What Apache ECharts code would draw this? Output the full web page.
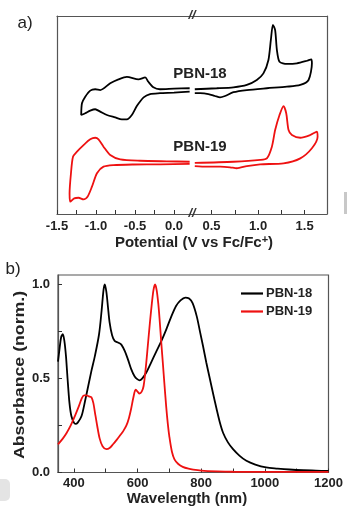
<!DOCTYPE html>
<html>
<head>
<meta charset="utf-8">
<script src="https://cdn.jsdelivr.net/npm/echarts@6/dist/echarts.min.js"></script>
<style>
html,body{margin:0;padding:0;background:#fff;}
#chart{width:347px;height:511px;}
</style>
</head>
<body>
<div id="chart"></div>
<script type="text/javascript">
// a) cyclic voltammetry, [potential V, current a.u.], split at the axis break
var pbn18CvLeft = [[0.20,63.5],[0.0,63.3],[-0.18,63.0],[-0.265,64.0],[-0.33,66.8],[-0.37,69.0],[-0.456,68.0],[-0.605,69.3],[-0.712,68.0],[-0.818,66.0],[-0.946,62.6],[-1.01,63.0],[-1.074,62.3],[-1.138,59.2],[-1.18,55.9],[-1.19,50.0],[-1.138,50.9],[-1.074,52.2],[-1.01,52.9],[-0.946,51.7],[-0.86,50.0],[-0.754,48.8],[-0.669,47.8],[-0.605,47.8],[-0.541,50.0],[-0.477,54.5],[-0.39,58.9],[-0.307,60.6],[-0.18,61.0],[0.0,61.3],[0.20,61.8]];
var pbn18CvRight = [[0.32,63.0],[0.556,63.5],[0.735,64.0],[0.879,65.2],[0.986,67.7],[1.057,71.0],[1.111,77.8],[1.137,87.9],[1.159,95.5],[1.183,92.9],[1.202,82.8],[1.23,76.9],[1.309,75.8],[1.417,76.1],[1.525,77.4],[1.571,78.1],[1.578,76.1],[1.542,67.7],[1.453,65.2],[1.309,64.3],[1.094,63.5],[0.879,62.6],[0.735,61.5],[0.645,59.6],[0.591,58.9],[0.538,59.6],[0.466,60.6],[0.376,61.0],[0.32,61.0]];
var pbn19CvLeft = [[0.20,26.4],[-0.093,26.6],[-0.435,26.9],[-0.69,27.6],[-0.818,29.8],[-0.904,34.0],[-0.968,37.7],[-1.01,38.5],[-1.074,37.7],[-1.16,34.8],[-1.244,31.5],[-1.295,28.9],[-1.321,20.6],[-1.339,10.4],[-1.33,6.2],[-1.279,7.9],[-1.224,8.2],[-1.16,7.4],[-1.109,8.7],[-1.052,13.8],[-0.988,20.6],[-0.904,23.9],[-0.776,24.7],[-0.52,25.0],[-0.179,25.1],[0.20,25.3]];
var pbn19CvRight = [[0.32,25.8],[0.735,26.4],[1.022,27.3],[1.094,28.1],[1.148,34.0],[1.183,42.4],[1.23,50.0],[1.273,54.5],[1.302,50.9],[1.327,42.4],[1.363,39.9],[1.453,38.5],[1.56,39.9],[1.632,41.6],[1.639,39.0],[1.578,33.2],[1.453,28.1],[1.273,25.6],[1.022,25.1],[0.879,24.2],[0.771,23.1],[0.699,23.6],[0.591,23.9],[0.448,23.9],[0.32,24.2]];

var potTicksLeft = [-1.5,-1.25,-1.0,-0.75,-0.5,-0.25,0.0];
var potLabelsLeft = [-1.5,-1.0,-0.5,0.0];
var potTicksRight = [0.5,0.75,1.0,1.25,1.5];
var potLabelsRight = [0.5,1.0,1.5];

// b) absorption spectra
var wl18 = [350,355,360,365,370,375,380,386,392,400,405,412,424,435,445,455,466,479,487,493,497,502,507,512,520,528,540,549,560,570,580,591,600,606,615,627,640,658,675,690,705,721,735,750,762,773,786,796,806,816,827,838,848,858,869,884,900,920,942,970,1004,1040,1077,1120,1160,1200];
var abs18 = [0.59,0.66,0.72,0.735,0.70,0.62,0.50,0.37,0.30,0.265,0.258,0.265,0.30,0.38,0.46,0.54,0.62,0.735,0.86,0.97,1.0,0.96,0.88,0.80,0.73,0.70,0.69,0.68,0.645,0.60,0.55,0.51,0.495,0.49,0.50,0.53,0.575,0.64,0.70,0.76,0.825,0.885,0.915,0.93,0.925,0.90,0.83,0.75,0.67,0.585,0.50,0.415,0.34,0.27,0.21,0.16,0.124,0.09,0.062,0.042,0.027,0.021,0.016,0.012,0.01,0.008];
var wl19 = [350,365,377,390,403,415,425,432,440,447,455,461,466,473,481,490,502,512,523,535,544,555,565,573,580,587,594,600,606,613,619,626,632,639,645,650,655,660,665,669,675,680,684,690,695,700,708,716,728,742,760,775,800,850,900,1000,1100,1200];
var abs19 = [0.15,0.18,0.21,0.25,0.30,0.35,0.395,0.41,0.41,0.405,0.40,0.37,0.32,0.25,0.18,0.14,0.124,0.13,0.15,0.175,0.195,0.22,0.25,0.29,0.34,0.40,0.44,0.43,0.42,0.43,0.46,0.56,0.67,0.80,0.90,0.97,1.0,0.97,0.90,0.82,0.68,0.57,0.48,0.35,0.26,0.19,0.11,0.07,0.045,0.03,0.02,0.015,0.01,0.006,0.004,0.003,0.003,0.003];
var wlTicks = [400,500,600,700,800,900,1000,1100,1200];
var wlLabels = [400,600,800,1000,1200];
var absTicks = [0,0.25,0.5,0.75,1.0];
var absLabels = [0,0.5,1.0];

var FONT = "'Liberation Sans', Arial, sans-serif";
var frame = {show:true, onZero:false, lineStyle:{color:'#555', width:1.2}};
var lab = {color:'#222', fontSize:13, fontWeight:'bold', fontFamily:FONT, margin:6};

function zip(a, b) {
    var out = [];
    for (var i = 0; i < a.length; i++) out.push([a[i], b[i]]);
    return out;
}
function fmt(v) { return (+v).toFixed(1); }

function lineOnly(grid, pos, min, max) {
    return {type:'value', gridIndex:grid, position:pos, min:min, max:max,
        axisLine:frame, axisTick:{show:false}, axisLabel:{show:false}, splitLine:{show:false}};
}

var chart = echarts.init(document.getElementById('chart'), null, {renderer:'canvas'});
var option = {
    animation:false,
    textStyle:{fontFamily:FONT},
    grid:[
        {left:57, top:16, width:135, height:198},
        {left:192, top:16, width:135, height:198},
        {left:58, top:275, width:270.5, height:197.5, show:true, borderColor:'#555', borderWidth:1.2}
    ],
    legend:{
        data:['PBN-18','PBN-19'], orient:'vertical', left:236, top:282,
        icon:'rect', itemWidth:22, itemHeight:2.2, itemGap:5,
        textStyle:{color:'#222', fontSize:13, fontWeight:'bold', fontFamily:FONT, padding:[0,0,0,-2]}
    },
    xAxis:[
        {type:'value', gridIndex:0, position:'bottom', min:-1.5, max:0.23,
            axisLine:frame,
            axisTick:{show:true, inside:true, length:4, customValues:potTicksLeft, lineStyle:{color:'#333'}},
            axisLabel:Object.assign({customValues:potLabelsLeft, formatter:fmt}, lab),
            splitLine:{show:false}},
        lineOnly(0, 'top', -1.5, 0.23),
        {type:'value', gridIndex:1, position:'bottom', min:0.29, max:1.74,
            axisLine:frame,
            axisTick:{show:true, inside:true, length:4, customValues:potTicksRight, lineStyle:{color:'#333'}},
            axisLabel:Object.assign({customValues:potLabelsRight, formatter:fmt}, lab),
            splitLine:{show:false}},
        lineOnly(1, 'top', 0.29, 1.74),
        {type:'value', gridIndex:2, position:'bottom', min:350, max:1200,
            axisLine:frame,
            axisTick:{show:true, inside:true, length:4, customValues:wlTicks, lineStyle:{color:'#333'}},
            axisLabel:Object.assign({customValues:wlLabels, formatter:function (v) { return String(v); }}, lab, {margin:4}),
            splitLine:{show:false}}
    ],
    yAxis:[
        lineOnly(0, 'left', 0, 100),
        lineOnly(1, 'right', 0, 100),
        {type:'value', gridIndex:2, position:'left', min:0, max:1.05,
            axisLine:frame,
            axisTick:{show:true, inside:true, length:4, customValues:absTicks, lineStyle:{color:'#333'}},
            axisLabel:Object.assign({customValues:absLabels, formatter:fmt}, lab, {margin:8}),
            splitLine:{show:false}}
    ],
    series:[
        {name:'PBN-18 CV', type:'line', xAxisIndex:0, yAxisIndex:0, data:pbn18CvLeft, smooth:0.25, showSymbol:false, lineStyle:{color:'#000', width:1.8}, itemStyle:{color:'#000'}},
        {name:'PBN-18 CV', type:'line', xAxisIndex:2, yAxisIndex:1, data:pbn18CvRight, smooth:0.25, showSymbol:false, lineStyle:{color:'#000', width:1.8}, itemStyle:{color:'#000'}},
        {name:'PBN-19 CV', type:'line', xAxisIndex:0, yAxisIndex:0, data:pbn19CvLeft, smooth:0.25, showSymbol:false, lineStyle:{color:'#ee1111', width:1.8}, itemStyle:{color:'#ee1111'}},
        {name:'PBN-19 CV', type:'line', xAxisIndex:2, yAxisIndex:1, data:pbn19CvRight, smooth:0.25, showSymbol:false, lineStyle:{color:'#ee1111', width:1.8}, itemStyle:{color:'#ee1111'}},
        {name:'PBN-18', type:'line', xAxisIndex:4, yAxisIndex:2, data:zip(wl18, abs18), smooth:0.3, showSymbol:false, lineStyle:{color:'#000', width:1.8}, itemStyle:{color:'#000'}},
        {name:'PBN-19', type:'line', xAxisIndex:4, yAxisIndex:2, data:zip(wl19, abs19), smooth:0.3, showSymbol:false, lineStyle:{color:'#ee1111', width:1.8}, itemStyle:{color:'#ee1111'}}
    ],
    graphic:[
        {type:'text', x:25, y:23, style:{text:'a)', font:'17px ' + FONT, fill:'#222', align:'center', verticalAlign:'middle'}},
        {type:'text', x:13, y:269, style:{text:'b)', font:'17px ' + FONT, fill:'#222', align:'center', verticalAlign:'middle'}},
        {type:'text', x:200, y:74, style:{text:'PBN-18', font:'bold 15px ' + FONT, fill:'#222', align:'center', verticalAlign:'middle'}},
        {type:'text', x:200, y:147, style:{text:'PBN-19', font:'bold 15px ' + FONT, fill:'#222', align:'center', verticalAlign:'middle'}},
        {type:'text', x:192, y:15, z:10, style:{text:'//', font:'italic bold 13px ' + FONT, fill:'#333', align:'center', verticalAlign:'middle'}},
        {type:'text', x:192, y:213, z:10, style:{text:'//', font:'italic bold 13px ' + FONT, fill:'#333', align:'center', verticalAlign:'middle'}},
        {type:'text', x:194, y:243, style:{
            text:'Potential (V vs Fc/Fc{s|+})', font:'bold 15px ' + FONT, fill:'#222', align:'center', verticalAlign:'middle',
            rich:{s:{fontSize:11, fontWeight:'bold', fontFamily:FONT, fill:'#222', verticalAlign:'top', padding:[0,0,7,0]}}
        }},
        {type:'text', x:187, y:499, style:{text:'Wavelength (nm)', font:'bold 15px ' + FONT, fill:'#222', align:'center', verticalAlign:'middle'}},
        {type:'text', x:20, y:375, rotation:Math.PI / 2, scaleX:1.18, style:{text:'Absorbance (norm.)', font:'bold 15px ' + FONT, fill:'#222', align:'center', verticalAlign:'middle'}},
        // grey scan marks at the picture edges
        {type:'rect', shape:{x:-6, y:479, width:16, height:22, r:5}, style:{fill:'#e4e4e4'}},
        {type:'rect', shape:{x:344, y:192, width:3, height:22}, style:{fill:'#c8c8c8'}}
    ]
};
chart.setOption(option);
</script>
</body>
</html>
